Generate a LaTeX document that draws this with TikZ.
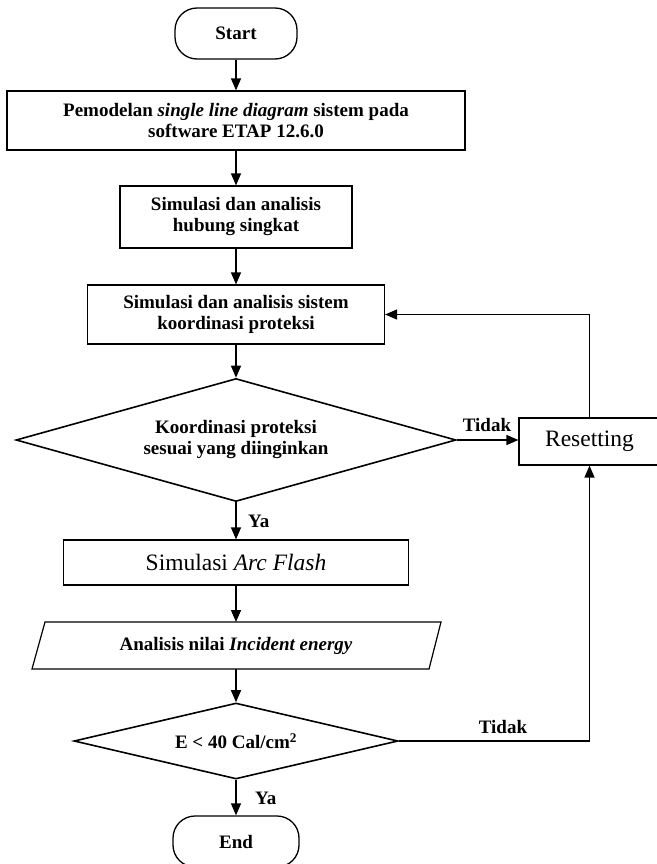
\documentclass[tikz,border=0pt]{standalone}
\usepackage{fontspec}
\setmainfont{Liberation Serif}
\usetikzlibrary{shapes.geometric,arrows.meta}
\begin{document}
\begin{tikzpicture}[x=1pt,y=-1pt,
  txt/.style={font=\fontsize{19}{21}\selectfont\bfseries, align=center, inner sep=0pt},
  bigtxt/.style={font=\fontsize{23.5}{26}\selectfont, align=center, inner sep=0pt},
  box/.style={draw, rectangle, line width=1.2pt},
  term/.style={draw, rectangle, rounded corners=22pt, line width=1.3pt},
  dia/.style={draw, diamond, line width=1.6pt},
  arr/.style={line width=1.3pt, -{Triangle[length=12pt,width=10pt]}},
  lbl/.style={font=\fontsize{19}{21}\selectfont\bfseries, inner sep=0pt}]
\useasboundingbox (0,0) rectangle (656,864);
% nodes
\node[term, txt, minimum width=122pt, minimum height=51pt] (start) at (236,33.5) {Start};
\node[box, txt, minimum width=458pt, minimum height=59pt] (b1) at (236,120.5)
  {Pemodelan \textit{single line diagram} sistem pada\\ software ETAP 12.6.0};
\node[box, txt, minimum width=232pt, minimum height=62pt] (b2) at (236,217)
  {Simulasi dan analisis\\ hubung singkat};
\node[box, txt, minimum width=297pt, minimum height=59pt] (b3) at (236,314.5)
  {Simulasi dan analisis sistem\\ koordinasi proteksi};
\node[dia, txt, aspect=3.6, minimum width=440pt, minimum height=123pt] (d1) at (236,440)
  {Koordinasi proteksi\\ sesuai yang diinginkan};
\node[box, bigtxt, minimum width=141pt, minimum height=47pt] (reset) at (589.5,441.5) {Resetting};
\node[box, bigtxt, minimum width=345pt, minimum height=45pt] (b4) at (236,562.5)
  {Simulasi \textit{Arc Flash}};
\draw[line width=1.2pt] (45,622) -- (441,622) -- (429,669) -- (32,669) -- cycle;
\node[txt] (para) at (236,645.5) {Analisis nilai \textit{Incident energy}};
\coordinate (paraT) at (236,622);
\coordinate (paraB) at (236,669);
\node[dia, txt, aspect=4.26, minimum width=324pt, minimum height=76pt] (d2) at (236,741)
  {E < 40 Cal/cm\textsuperscript{2}};
\node[term, txt, minimum width=126pt, minimum height=51pt] (end) at (236,841.5) {End};
% connectors
\draw[arr] (start.south) -- (b1.north);
\draw[arr] (b1.south) -- (b2.north);
\draw[arr] (b2.south) -- (b3.north);
\draw[arr] (b3.south) -- (d1.north);
\draw[arr] (d1.east) -- (d1.east -| reset.west);
\draw[arr] (reset.north) |- (b3.east);
\draw[arr] (d1.south) -- (b4.north);
\draw[arr] (b4.south) -- (paraT);
\draw[arr] (paraB) -- (d2.north);
\draw[arr] (d2.east) -| (reset.south);
\draw[arr] (d2.south) -- (end.north);
% labels
\node[lbl] (t1) at (487,425) {Tidak};
\node[lbl, anchor=west] (y1) at (248,521) {Ya};
\node[lbl] (t2) at (503,727) {Tidak};
\node[lbl, anchor=west] (y2) at (255,798) {Ya};
\end{tikzpicture}
\end{document}
